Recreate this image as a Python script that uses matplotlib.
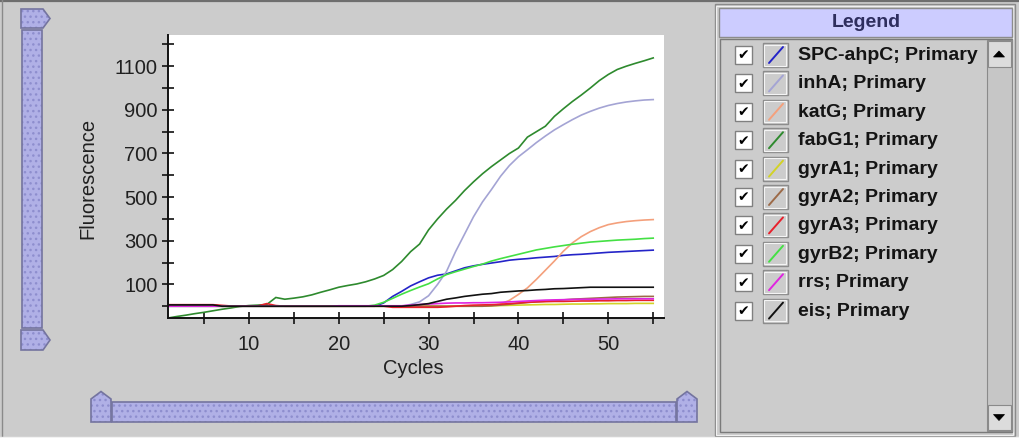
import matplotlib
matplotlib.use("Agg")
import matplotlib.pyplot as plt
from matplotlib.patches import Rectangle, Polygon
import numpy as np

# ---------------- data ----------------
cycles = np.arange(1, 56)

spc_ahpC = [0, 0, 0, 0, 0, 0, 0, 0, 0, 0, 0, 0, 0, 0, 0, 0, 0, 0, 0, 0, 0, 0, 0, 0,
            15, 45, 68, 93, 112, 130, 142, 148, 162, 176, 185, 192, 198, 204, 211, 215,
            218, 222, 225, 228, 233, 236, 238, 241, 244, 247, 249, 251, 253, 255, 257]
inhA = [0, 0, 0, 0, 0, 0, 0, 0, 0, 0, 0, 0, 0, 0, 0, 0, 0, 0, 0, 0, 0, 0, 0, 0, 0, 0, 0,
        8, 20, 48, 100, 160, 250, 330, 410, 478, 535, 595, 645, 685, 717, 750, 780, 808,
        832, 855, 876, 893, 908, 920, 929, 936, 941, 945, 947]
katG = [0, 0, 0, 0, 0, 0, 0, 0, 0, 0, 0, 0, 0, 0, 0, 0, 0, 0, 0, 0, 0, 0, 0, 0, 0, 0, 0,
        0, 0, 0, 0, 0, 0, 0, 0, 0, 3, 10, 27, 54, 84, 123, 165, 207, 252, 290, 319, 342,
        360, 374, 382, 388, 392, 395, 397]
fabG1 = [-54, -47, -41, -34, -28, -21, -14, -8, -1, 3, 5, 8, 40, 32, 37, 43, 52, 64, 75,
         87, 95, 102, 112, 125, 141, 168, 205, 250, 285, 350, 400, 445, 485, 530, 570,
         607, 640, 670, 700, 725, 775, 800, 825, 870, 905, 938, 968, 1000, 1034, 1062,
         1085, 1100, 1113, 1125, 1138]
gyrA1 = [0, 0, 0, 0, 0, 0, 0, 0, 0, 0, 0, 0, 0, 0, 0, 0, 0, 0, 0, 0, 0, 0, 0, 0, 0, 0, 0,
         0, 0, 0, 0, 0, 0, 0, 0, 1, 2, 3, 4, 5, 6, 7, 8, 8, 9, 10, 10, 11, 11, 12, 12, 12,
         13, 13, 13]
gyrA2 = [5, 5, 5, 5, 5, 5, 0, 0, 0, 0, 0, 0, 0, 0, 0, 0, 0, 0, 0, 0, 0, 0, 0, 0, 0, 0, 0,
         0, 0, 0, 0, 0, 0, 0, 0, 0, 2, 5, 9, 13, 17, 20, 23, 26, 29, 32, 34, 36, 38, 40,
         42, 43, 44, 45, 45]
gyrA3 = [7, 7, 7, 7, 7, 7, 4, 1, 1, 1, 1, 12, 3, 0, 0, 0, 0, 0, 0, 0, 0, 0, 0, 0, 0, -5,
         -5, -5, -5, -5, -5, -3, 0, 3, 5, 6, 7, 9, 12, 15, 18, 20, 21, 22, 22, 23, 24, 24,
         25, 25, 26, 26, 27, 27, 27]
gyrB2 = [0, 0, 0, 0, 0, 0, 0, 0, 0, 0, 0, 0, 0, 0, 0, 0, 0, 0, 0, 0, 0, 0, 0, 5, 18, 36,
         55, 72, 88, 103, 125, 145, 158, 170, 182, 193, 207, 218, 228, 238, 248, 258, 265,
         272, 278, 284, 289, 294, 297, 300, 303, 305, 307, 310, 312]
rrs = [0, 0, 0, 0, 0, 0, 0, 0, 0, 0, 0, 0, 0, 0, 0, 0, 0, 0, 0, 2, 2, 2, 2, 2, 2, 2, 2, 5,
       8, 10, 12, 14, 15, 15, 16, 16, 17, 18, 20, 22, 24, 26, 28, 29, 30, 31, 32, 32, 33,
       33, 34, 34, 34, 34, 34]
eis = [6, 6, 6, 6, 6, 6, 0, 0, 0, 0, 0, 0, 0, 0, 0, 0, 0, 0, 0, 0, 0, 0, 0, 0, 0, 0, 0, 3,
       7, 12, 22, 32, 38, 45, 50, 55, 58, 64, 67, 70, 72, 75, 77, 80, 81, 83, 85, 87, 87,
       87, 87, 87, 87, 87, 87]

series_names = ["SPC-ahpC", "inhA", "katG", "fabG1", "gyrA1", "gyrA2", "gyrA3",
                "gyrB2", "rrs", "eis"]
series_values = [spc_ahpC, inhA, katG, fabG1, gyrA1, gyrA2, gyrA3, gyrB2, rrs, eis]
series_colors = ["#2424c8", "#a4a4d4", "#f4a07c", "#2e8a2e", "#d2d226", "#9c6a48",
                 "#e8202c", "#44e044", "#e024e0", "#111111"]
legend_suffix = "; Primary"

x_major = [10, 20, 30, 40, 50]
x_all_ticks = [5, 10, 15, 20, 25, 30, 35, 40, 45, 50, 55]
y_all_ticks = [0, 100, 200, 300, 400, 500, 600, 700, 800, 900, 1000, 1100, 1200]
y_labels = ["", "100", "", "300", "", "500", "", "700", "", "900", "", "1100", ""]

# ---------------- figure ----------------
W, H = 1019, 438
BG = "#cccccc"
plt.rcParams['font.family'] = ['Liberation Sans', 'DejaVu Sans']
plt.rcParams['hatch.linewidth'] = 1.0
fig = plt.figure(figsize=(W / 100, H / 100), dpi=100, facecolor=BG)

gui = fig.add_axes([0, 0, 1, 1], zorder=0)
gui.set_xlim(0, W)
gui.set_ylim(H, 0)
gui.axis("off")
gui.set_facecolor(BG)

# outer frame lines
gui.plot([0, W], [1, 1], color="#6e6e6e", lw=1.6)
gui.plot([2.5, 2.5], [0, H], color="#8a8a8a", lw=1.0)
gui.plot([0, W], [436.5, 436.5], color="#f2f2f2", lw=1.0)

SB_FILL = "#b0b0e6"
SB_HATCH = "#8e8ece"
SB_EDGE = "#74749f"


def scroll_patch(shape):
    p1 = Polygon(shape, closed=True, facecolor=SB_FILL, edgecolor=SB_HATCH,
                 hatch="...", lw=0)
    gui.add_patch(p1)
    p2 = Polygon(shape, closed=True, fill=False, edgecolor=SB_EDGE, lw=1.2)
    gui.add_patch(p2)


def rect_pts(x0, y0, x1, y1):
    return [(x0, y0), (x1, y0), (x1, y1), (x0, y1)]


# vertical scrollbar (left)
scroll_patch([(21, 9), (43, 9), (50, 18.5), (43, 28), (21, 28)])
scroll_patch(rect_pts(22, 30, 42, 328))
scroll_patch([(21, 330), (43, 330), (50, 340), (43, 350), (21, 350)])
# horizontal scrollbar (bottom)
scroll_patch([(91, 422), (91, 399), (101, 391.5), (111, 399), (111, 422)])
scroll_patch(rect_pts(112, 402, 676, 422))
scroll_patch([(677, 422), (677, 399), (687, 391.5), (697, 399), (697, 422)])

# legend panel
gui.add_patch(Rectangle((715, 4), 300, 432, fill=False, edgecolor="#8a8a8a", lw=1.0))
gui.add_patch(Rectangle((716.5, 5.5), 297, 429, fill=False, edgecolor="#f0f0f0", lw=0.8))
gui.add_patch(Rectangle((719, 8), 293, 29, facecolor="#ccccff", edgecolor="#8c8c8c", lw=1.0))
gui.text(866, 22.5, "Legend", ha="center", va="center", fontsize=14,
         fontweight="bold", color="#2e2e5e")
gui.add_patch(Rectangle((720, 39), 292, 393, facecolor=BG, edgecolor="#7a7a7a", lw=1.0))
# legend scrollbar
gui.add_patch(Rectangle((987, 40), 25, 391, facecolor="#c6c6c6", edgecolor="#8a8a8a", lw=0.8))
for (y0, y1, up) in [(41, 67, True), (405, 430, False)]:
    gui.add_patch(Rectangle((988, y0), 23, y1 - y0, facecolor="#dcdcdc",
                            edgecolor="#8a8a8a", lw=0.8))
    cy = (y0 + y1) / 2
    if up:
        tri = [(993.5, cy + 3), (1004.5, cy + 3), (999, cy - 3)]
    else:
        tri = [(993.5, cy - 3), (1004.5, cy - 3), (999, cy + 3)]
    gui.add_patch(Polygon(tri, closed=True, facecolor="black", edgecolor="black", lw=0.5))

row_y0 = 55
row_step = 28.4
for i, (name, col) in enumerate(zip(series_names, series_colors)):
    cy = row_y0 + i * row_step
    # checkbox
    gui.add_patch(Rectangle((735, cy - 9), 17, 18, facecolor="white",
                            edgecolor="#808080", lw=1.0))
    gui.text(743.5, cy + 0.5, "\u2714", ha="center", va="center", fontsize=10,
             color="black", family="DejaVu Sans")
    # swatch
    gui.add_patch(Rectangle((763, cy - 12), 25, 24, facecolor=BG,
                            edgecolor="#8c8c8c", lw=1.0))
    gui.add_patch(Rectangle((764.5, cy - 10.5), 22, 21, fill=False,
                            edgecolor="#f4f4f4", lw=0.8))
    gui.plot([769, 783], [cy + 8, cy - 8], color=col, lw=1.4, solid_capstyle="round")
    gui.text(798, cy + 0.5, name + legend_suffix, ha="left", va="center",
             fontsize=14, fontweight="bold", color="#141414")

# axis labels
gui.text(413, 368, "Cycles", ha="center", va="center", fontsize=14.5, color="#202020")
gui.text(88, 178, "Fluorescence", ha="center", va="center", rotation=90,
         fontsize=14.5, color="#202020")

# ---------------- chart ----------------
L, R, T, B = 168, 664, 35, 318
ax = fig.add_axes([L / W, (H - B) / H, (R - L) / W, (B - T) / H], zorder=2)
ax.set_facecolor("white")
for c, v, col in zip(series_names, series_values, series_colors):
    ax.plot(cycles, v, color=col, lw=1.2, solid_joinstyle="miter")

ax.set_xlim(1, 56.2)
ax.set_ylim(-54, 1243)
for s in ["top", "right"]:
    ax.spines[s].set_visible(False)
for s in ["left", "bottom"]:
    ax.spines[s].set_color("#111111")
    ax.spines[s].set_linewidth(1.4)

ax.set_xticks(x_all_ticks)
ax.set_xticklabels([str(t) if t in x_major else "" for t in x_all_ticks])
ax.set_yticks(y_all_ticks)
ax.set_yticklabels(y_labels)
ax.tick_params(axis="x", direction="inout", length=8, width=1.2, pad=8,
               labelsize=14.5, colors="#111111", labelcolor="#202020")
ax.tick_params(axis="y", direction="inout", length=8, width=1.2, pad=3.5,
               labelsize=14.5, colors="#111111", labelcolor="#202020")
for lab in ax.get_xticklabels() + ax.get_yticklabels():
    lab.set_clip_on(False)

fig.savefig("out.png", dpi=100, facecolor=BG)
